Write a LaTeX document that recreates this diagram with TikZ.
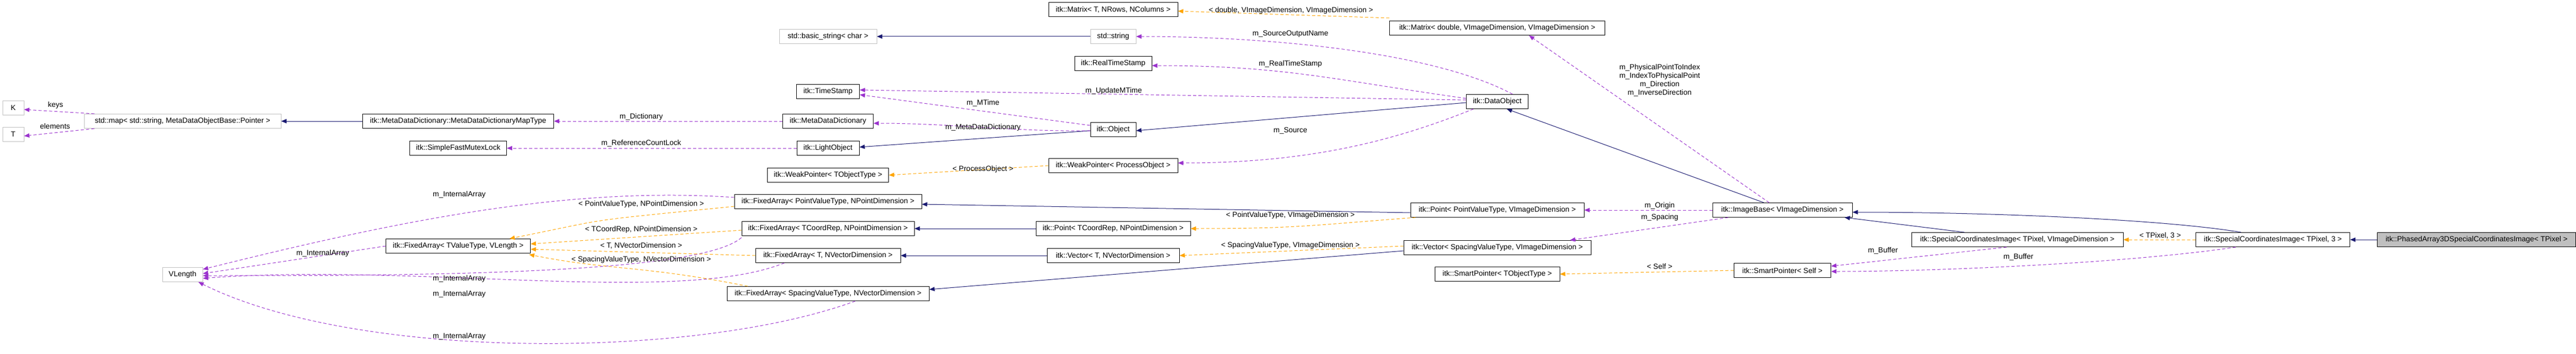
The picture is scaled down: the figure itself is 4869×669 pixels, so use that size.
\documentclass[tikz,border=0pt]{standalone}
\usepackage{fontspec}
\setmainfont{Liberation Sans}
\usetikzlibrary{arrows.meta}
\definecolor{inhcol}{HTML}{191970}
\definecolor{usecol}{HTML}{9A32CD}
\definecolor{tplcol}{HTML}{FFA500}
\definecolor{extcol}{HTML}{BFBFBF}
\tikzset{
  cls/.style={draw=black, line width=1pt, fill=white, minimum height=27pt, inner sep=0pt, font=\fontsize{14}{16}\selectfont},
  ext/.style={cls, draw=extcol},
  self/.style={cls, fill=extcol},
  lbl/.style={font=\fontsize{14}{16}\selectfont, inner sep=1pt, align=center},
  tip/.style={-{Triangle[length=10pt,width=8pt]}},
  inh/.style={tip, draw=inhcol, line width=1pt},
  use/.style={tip, draw=usecol, line width=1pt, dash pattern=on 6pt off 4pt},
  tpl/.style={tip, draw=tplcol, line width=1pt, dash pattern=on 6pt off 4pt},
}
\begin{document}
\begin{tikzpicture}[x=1pt, y=-1pt]
\useasboundingbox (0,0) rectangle (4869,669);

% left column
\node[ext, minimum width=40] (K) at (25,204) {K};
\node[ext, minimum width=40] (T) at (25,254) {T};
\node[ext, minimum width=372] (map) at (345,229) {std::map< std::string, MetaDataObjectBase::Pointer >};
\node[ext, minimum width=76] (vlen) at (345,519) {VLength};

\node[cls, minimum width=361] (maptype) at (866,229) {itk::MetaDataDictionary::MetaDataDictionaryMapType};
\node[cls, minimum width=183] (mutex) at (866,280) {itk::SimpleFastMutexLock};
\node[cls, minimum width=273] (fabase) at (866,465) {itk::FixedArray< TValueType, VLength >};

% second column
\node[ext, minimum width=184] (bstr) at (1565,69) {std::basic\_string< char >};
\node[cls, minimum width=119] (tstamp) at (1565,173) {itk::TimeStamp};
\node[cls, minimum width=171] (mdd) at (1565,229) {itk::MetaDataDictionary};
\node[cls, minimum width=118] (light) at (1565,280) {itk::LightObject};
\node[cls, minimum width=229] (wpbase) at (1565,331) {itk::WeakPointer< TObjectType >};
\node[cls, minimum width=354] (fapoint) at (1565,381) {itk::FixedArray< PointValueType, NPointDimension >};
\node[cls, minimum width=326] (facoord) at (1565,432) {itk::FixedArray< TCoordRep, NPointDimension >};
\node[cls, minimum width=274] (fat) at (1565,483) {itk::FixedArray< T, NVectorDimension >};
\node[cls, minimum width=382] (faspace) at (1565,555) {itk::FixedArray< SpacingValueType, NVectorDimension >};

% third column
\node[cls, minimum width=244] (matbase) at (2104,18) {itk::Matrix< T, NRows, NColumns >};
\node[ext, minimum width=86] (str) at (2104,69) {std::string};
\node[cls, minimum width=146] (rts) at (2104,120) {itk::RealTimeStamp};
\node[cls, minimum width=86] (obj) at (2104,245) {itk::Object};
\node[cls, minimum width=244] (wpproc) at (2104,313) {itk::WeakPointer< ProcessObject >};
\node[cls, minimum width=292] (ptbase) at (2104,432) {itk::Point< TCoordRep, NPointDimension >};
\node[cls, minimum width=250] (vecbase) at (2104,483) {itk::Vector< T, NVectorDimension >};

% fourth column
\node[cls, minimum width=407] (matdbl) at (2830,53) {itk::Matrix< double, VImageDimension, VImageDimension >};
\node[cls, minimum width=117] (dobj) at (2830,192) {itk::DataObject};
\node[cls, minimum width=328] (ptimg) at (2830,397) {itk::Point< PointValueType, VImageDimension >};
\node[cls, minimum width=354] (vecimg) at (2830,468) {itk::Vector< SpacingValueType, VImageDimension >};
\node[cls, minimum width=236] (spbase) at (2830,518) {itk::SmartPointer< TObjectType >};

% right part
\node[cls, minimum width=264] (imgbase) at (3369,397) {itk::ImageBase< VImageDimension >};
\node[cls, minimum width=183] (spself) at (3369,511) {itk::SmartPointer< Self >};
\node[cls, minimum width=400] (scidim) at (3813,453) {itk::SpecialCoordinatesImage< TPixel, VImageDimension >};
\node[cls, minimum width=291] (scithree) at (4296,453) {itk::SpecialCoordinatesImage< TPixel, 3 >};
\node[self, minimum width=375] (phased) at (4681,453) {itk::PhasedArray3DSpecialCoordinatesImage< TPixel >};

% inheritance
\draw[inh] (maptype.west) -- (map.east);
\draw[inh] (str.west) -- (bstr.east);
\draw[inh] ([yshift=-2]obj.west) -- ([yshift=2]light.east);
\draw[inh] ([yshift=-2]dobj.west) -- ([yshift=-2]obj.east);
\draw[inh] ([xshift=-35]imgbase.north) -- ([xshift=18]dobj.south);
\draw[inh] ([yshift=-5]ptimg.west) -- ([yshift=-5]fapoint.east);
\draw[inh] (ptbase.west) -- (facoord.east);
\draw[inh] (vecbase.west) -- (fat.east);
\draw[inh] ([yshift=-6]vecimg.west) -- ([yshift=8]faspace.east);
\draw[inh] ([xshift=-100]scidim.north) -- ([xshift=-15]imgbase.south east);
\draw[inh] ([xshift=-60]scithree.north) .. controls +(-150,-25) and +(250,0) .. ([yshift=-4]imgbase.east);
\draw[inh] (phased.west) -- (scithree.east);

% usage
\draw[use] ([xshift=20]map.north west) -- ([yshift=-3]K.east);
\draw[use] ([xshift=20]map.south west) -- ([yshift=-3]T.east);
\draw[use] (mdd.west) -- (maptype.east);
\draw[use] (light.west) -- (mutex.east);
\draw[use] ([yshift=8]obj.west) -- ([yshift=-6]tstamp.east);
\draw[use] ([yshift=-2]obj.west) .. controls +(-150,2) and +(150,0) .. ([yshift=-4]mdd.east);
\draw[use] ([yshift=3]dobj.west) -- ([yshift=3]tstamp.east);
\draw[use] ([xshift=-30]dobj.north east) .. controls +(-150,-80) and +(250,0) .. (str.east);
\draw[use] ([yshift=6]dobj.west) .. controls +(-250,-35) and +(250,0) .. ([yshift=-4]rts.east);
\draw[use] ([xshift=-45]dobj.south) .. controls +(-150,60) and +(250,0) .. ([yshift=5]wpproc.east);
\draw[use] ([xshift=-25]imgbase.north) -- ([xshift=60]matdbl.south);
\draw[use] (imgbase.west) -- (ptimg.east);
\draw[use] ([xshift=30]imgbase.south west) -- ([xshift=-40]vecimg.north east);
\draw[use] ([xshift=-20]scidim.south) -- ([yshift=8]spself.east);
\draw[use] ([xshift=-70]scithree.south) .. controls +(-200,30) and +(200,0) .. ([yshift=-2]spself.east);
\draw[use] (fabase.west) -- ([yshift=2]vlen.east);
\draw[use] ([yshift=8]fapoint.west) .. controls +(-300,-20) and +(400,-100) .. ([yshift=10]vlen.east);
\draw[use] ([yshift=-3]facoord.south west) .. controls +(-80,70) and +(400,0) .. ([yshift=-2]vlen.east);
\draw[use] ([xshift=-220]fat.south east) .. controls +(-200,80) and +(400,-30) .. ([yshift=-7]vlen.east);
\draw[use] ([xshift=-140]faspace.south east) .. controls +(-300,110) and +(300,150) .. ([xshift=30]vlen.south);

% template instances
\draw[tpl] (wpproc.west) -- (wpbase.east);
\draw[tpl] ([yshift=5]matdbl.north west) -- ([yshift=-3]matbase.east);
\draw[tpl] ([xshift=10]ptimg.south west) .. controls +(-200,15) and +(200,0) .. (ptbase.east);
\draw[tpl] ([yshift=3]vecimg.west) -- (vecbase.east);
\draw[tpl] (spself.west) -- (spbase.east);
\draw[tpl] (scithree.west) -- (scidim.east);
\draw[tpl] ([yshift=-9]fapoint.west) .. controls +(-300,30) and +(200,-40) .. ([xshift=-40]fabase.north east);
\draw[tpl] ([yshift=-3]facoord.west) -- ([yshift=4]fabase.east);
\draw[tpl] (fat.west) -- ([yshift=-6]fabase.east);
\draw[tpl] ([xshift=40]faspace.north west) .. controls +(-200,-40) and +(150,30) .. ([yshift=-2,xshift=-3]fabase.south east);

% edge labels
\node[lbl] (lkeys) at (105,199) {keys};
\node[lbl] (lelem) at (104,238) {elements};
\node[lbl] (ldict) at (1212,221) {m\_Dictionary};
\node[lbl] (llock) at (1212,271) {m\_ReferenceCountLock};
\node[lbl] (lmtime) at (1858,195) {m\_MTime};
\node[lbl] (lmdd) at (1858,241) {m\_MetaDataDictionary};
\node[lbl] (lupd) at (2105,172) {m\_UpdateMTime};
\node[lbl] (lson) at (2439,64) {m\_SourceOutputName};
\node[lbl] (lrts) at (2439,121) {m\_RealTimeStamp};
\node[lbl] (lsrc) at (2439,247) {m\_Source};
\node[lbl] (lproc) at (1858,320) {< ProcessObject >};
\node[lbl] (lmat) at (2440,20) {< double, VImageDimension, VImageDimension >};
\node[lbl] (lphys) at (3137,152) {m\_PhysicalPointToIndex\\m\_IndexToPhysicalPoint\\m\_Direction\\m\_InverseDirection};
\node[lbl] (lorig) at (3137,389) {m\_Origin};
\node[lbl] (lspac) at (3137,411) {m\_Spacing};
\node[lbl] (lptimg) at (2439,407) {< PointValueType, VImageDimension >};
\node[lbl] (lvecimg) at (2439,464) {< SpacingValueType, VImageDimension >};
\node[lbl] (lfapt) at (1212,386) {< PointValueType, NPointDimension >};
\node[lbl] (lfacr) at (1212,434) {< TCoordRep, NPointDimension >};
\node[lbl] (lfat) at (1212,464) {< T, NVectorDimension >};
\node[lbl] (lfasp) at (1212,491) {< SpacingValueType, NVectorDimension >};
\node[lbl] (lia1) at (868,368) {m\_InternalArray};
\node[lbl] (lia2) at (610,479) {m\_InternalArray};
\node[lbl] (lia3) at (868,527) {m\_InternalArray};
\node[lbl] (lia4) at (868,556) {m\_InternalArray};
\node[lbl] (lia5) at (868,636) {m\_InternalArray};
\node[lbl] (lself) at (3137,503) {< Self >};
\node[lbl] (lbuf1) at (3559,474) {m\_Buffer};
\node[lbl] (lbuf2) at (3815,486) {m\_Buffer};
\node[lbl] (lthree) at (4083,445) {< TPixel, 3 >};
\end{tikzpicture}
\end{document}
